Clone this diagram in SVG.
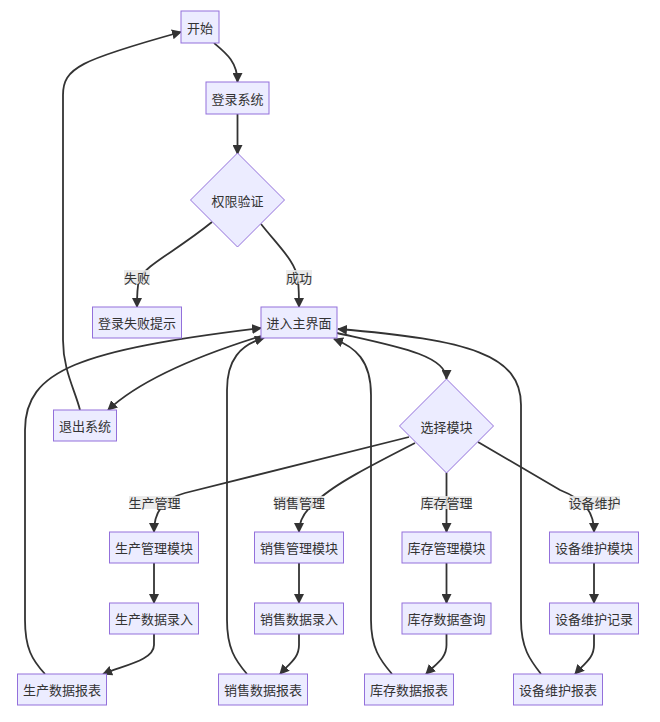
<svg xmlns="http://www.w3.org/2000/svg" width="660" height="722" viewBox="0 0 660 722">
<style>
.n rect,.n polygon{fill:#ECECFF;stroke:#9370DB;stroke-width:1}
text{font-family:"Noto Sans CJK SC","Liberation Sans",sans-serif;font-size:13px;fill:#333;text-anchor:middle;dominant-baseline:central}
.e path{fill:none;stroke:#333;stroke-width:1.8}
.lb rect{fill:#e8e8e8;opacity:0.85}
</style>
<defs>
<marker id="a" viewBox="0 0 10 10" refX="9" refY="5" markerWidth="10" markerHeight="10" markerUnits="userSpaceOnUse" orient="auto">
<path d="M0,0 L10,5 L0,10 z" fill="#333"/>
</marker>
</defs>
<rect width="660" height="722" fill="#fff"/>
<g class="e" marker-end="url(#a)">
<path d="M214,43 C226,53 237.5,62 237.5,82" marker-end="url(#a)"/>
<path d="M237.5,114 L237.5,154" marker-end="url(#a)"/>
<path d="M212,222 C175,252 145,265 139,280 C137,288 137,296 137,307" marker-end="url(#a)"/>
<path d="M261,224 C280,248 296,262 298,280 C299,290 299,298 299,307" marker-end="url(#a)"/>
<path d="M337,333 C395,346 446.5,355 446.5,379" marker-end="url(#a)"/>
<path d="M261,336 C200,355 140,380 108,410" marker-end="url(#a)"/>
<path d="M80,410 C75,390 63,370 63,340 L63,95 C63,68 80,60 181,32" marker-end="url(#a)"/>
<path d="M409,437 L185,493 C165,498 154,510 154,532" marker-end="url(#a)"/>
<path d="M415,443 C370,466 335,484 318,500 C305,510 299,520 299,532" marker-end="url(#a)"/>
<path d="M446.5,472.7 L446.5,532" marker-end="url(#a)"/>
<path d="M478,442 L560,490 C585,500 594,512 594,532" marker-end="url(#a)"/>
<path d="M154,563 L154,603" marker-end="url(#a)"/>
<path d="M299,563 L299,603" marker-end="url(#a)"/>
<path d="M446.5,563 L446.5,603" marker-end="url(#a)"/>
<path d="M594,563 L594,603" marker-end="url(#a)"/>
<path d="M154,634 L154,645 C154,660 125,665 103,674" marker-end="url(#a)"/>
<path d="M299,634 L299,645 C299,658 290,663 280,674" marker-end="url(#a)"/>
<path d="M446.5,634 L446.5,645 C446.5,658 437,663 426,674" marker-end="url(#a)"/>
<path d="M594,634 L594,645 C594,658 585,663 575,674" marker-end="url(#a)"/>
<path d="M45,674 C32,660 25,648 25,620 L25,430 C25,370 80,350 261,328" marker-end="url(#a)"/>
<path d="M247,674 C235,660 227,648 227,620 L227,390 C227,360 240,345 264,338" marker-end="url(#a)"/>
<path d="M392,674 C380,660 371,648 371,620 L371,395 C371,360 355,347 334,339" marker-end="url(#a)"/>
<path d="M541,674 C530,660 521,648 521,620 L521,405 C521,355 470,340 338,329" marker-end="url(#a)"/>
</g>
<g class="lb">
<g id="l-fail"><rect x="124" y="270" width="26" height="14"/><text x="137" y="277">失败</text></g>
<g id="l-ok"><rect x="286" y="270" width="26" height="14"/><text x="299" y="277">成功</text></g>
<g id="l-prod"><rect x="129" y="496" width="51" height="13"/><text x="154.5" y="502.5">生产管理</text></g>
<g id="l-sale"><rect x="274" y="496" width="50" height="13"/><text x="299" y="502.5">销售管理</text></g>
<g id="l-inv"><rect x="421" y="496" width="51" height="13"/><text x="446.5" y="502.5">库存管理</text></g>
<g id="l-eq"><rect x="569" y="496" width="51" height="13"/><text x="594.5" y="502.5">设备维护</text></g>
</g>
<g id="start" class="n"><rect x="181" y="11" width="38" height="32"/><text x="200" y="27">开始</text></g>
<g id="login" class="n"><rect x="206" y="82" width="63" height="32"/><text x="237.5" y="98">登录系统</text></g>
<g id="auth" class="n"><polygon points="237.5,153 284.5,200 237.5,247 190.5,200"/><text x="237.5" y="200">权限验证</text></g>
<g id="fail" class="n"><rect x="92.5" y="307" width="89" height="31"/><text x="137" y="322.5">登录失败提示</text></g>
<g id="main" class="n"><rect x="261" y="307" width="76" height="31"/><text x="299" y="322.5">进入主界面</text></g>
<g id="exit" class="n"><rect x="53.5" y="410" width="63" height="31"/><text x="85" y="425.5">退出系统</text></g>
<g id="select" class="n"><polygon points="446.5,379 493.5,426 446.5,473 399.5,426"/><text x="446.5" y="426">选择模块</text></g>
<g id="pm" class="n"><rect x="109.5" y="532" width="89" height="31"/><text x="154" y="547.5">生产管理模块</text></g>
<g id="sm" class="n"><rect x="254.5" y="532" width="89" height="31"/><text x="299" y="547.5">销售管理模块</text></g>
<g id="im" class="n"><rect x="402" y="532" width="89" height="31"/><text x="446.5" y="547.5">库存管理模块</text></g>
<g id="em" class="n"><rect x="549.5" y="532" width="89" height="31"/><text x="594" y="547.5">设备维护模块</text></g>
<g id="pe" class="n"><rect x="109.5" y="603" width="89" height="31"/><text x="154" y="618.5">生产数据录入</text></g>
<g id="se" class="n"><rect x="254.5" y="603" width="89" height="31"/><text x="299" y="618.5">销售数据录入</text></g>
<g id="iq" class="n"><rect x="402" y="603" width="89" height="31"/><text x="446.5" y="618.5">库存数据查询</text></g>
<g id="er" class="n"><rect x="549.5" y="603" width="89" height="31"/><text x="594" y="618.5">设备维护记录</text></g>
<g id="pr" class="n"><rect x="17.5" y="674" width="89" height="31"/><text x="62" y="689.5">生产数据报表</text></g>
<g id="sr" class="n"><rect x="218.5" y="674" width="89" height="31"/><text x="263" y="689.5">销售数据报表</text></g>
<g id="ir" class="n"><rect x="364.5" y="674" width="89" height="31"/><text x="409" y="689.5">库存数据报表</text></g>
<g id="erp" class="n"><rect x="513.5" y="674" width="89" height="31"/><text x="558" y="689.5">设备维护报表</text></g>
</svg>
